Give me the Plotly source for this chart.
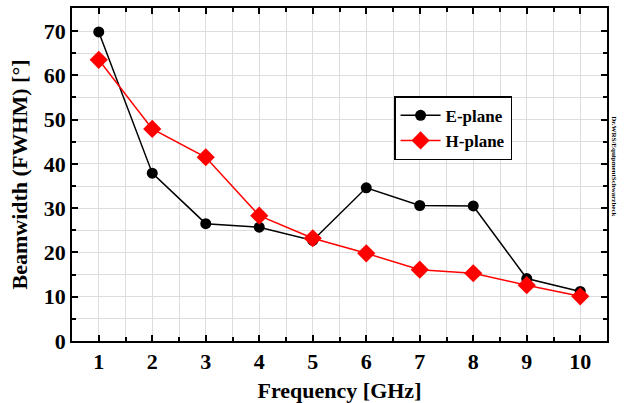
import plotly.graph_objects as go

freq = [1, 2, 3, 4, 5, 6, 7, 8, 9, 10]
e_plane = [69.8, 37.9, 26.5, 25.7, 22.7, 34.6, 30.6, 30.5, 14.1, 11.2]
h_plane = [63.5, 47.9, 41.5, 28.3, 23.2, 19.8, 16.1, 15.3, 12.6, 10.1]

font = "Liberation Serif"
fig = go.Figure()
fig.add_trace(go.Scatter(x=freq, y=e_plane, mode="lines+markers", name="E-plane",
                         line=dict(color="black", width=1.5),
                         marker=dict(symbol="circle", size=11, color="black")))
fig.add_trace(go.Scatter(x=freq, y=h_plane, mode="lines+markers", name="H-plane",
                         line=dict(color="red", width=1.5),
                         marker=dict(symbol="diamond", size=14, color="red")))

axis_common = dict(showline=True, linecolor="black", linewidth=1.5, mirror="allticks",
                   ticks="inside", ticklen=6, tickcolor="black", tickwidth=1.5,
                   showgrid=True, gridcolor="#dddddd", gridwidth=1, zeroline=False,
                   automargin=False,
                   tickfont=dict(family=font, size=22, color="black", weight="bold"))
fig.update_xaxes(range=[0.5, 10.5], tickvals=freq, **axis_common,
                 minor=dict(dtick=0.5, tick0=0.5, ticks="inside", ticklen=4, tickcolor="black",
                            showgrid=True, gridcolor="#dddddd"),
                 title=dict(text="<b>Frequency [GHz]</b>", font=dict(family=font, size=22, color="black"),
                            standoff=14))
fig.update_yaxes(range=[0, 75.2], dtick=10, **axis_common,
                 minor=dict(dtick=5, ticks="inside", ticklen=4, tickcolor="black",
                            showgrid=True, gridcolor="#dddddd"),
                 title=dict(text="<b>Beamwidth (FWHM) [°]</b>", font=dict(family=font, size=22, color="black"),
                            standoff=10))
fig.update_layout(width=627, height=403, margin=dict(l=72, r=20, t=8, b=62, autoexpand=False),
                  paper_bgcolor="white", plot_bgcolor="white",
                  font=dict(family=font, color="black"),
                  legend=dict(x=0.602, y=0.735, xanchor="left", yanchor="top",
                              bordercolor="black", borderwidth=1.5, bgcolor="white",
                              font=dict(family=font, size=17, color="black", weight="bold"),
                              itemwidth=40, tracegroupgap=0),
                  )
fig.add_annotation(text="<b>Dr.WRS/EquipmentSchwarzbeck</b>", xref="paper", yref="paper",
                   x=1.025, y=0.68, textangle=90, showarrow=False,
                   font=dict(family=font, size=7, color="black"))
fig.write_html("out.html")
